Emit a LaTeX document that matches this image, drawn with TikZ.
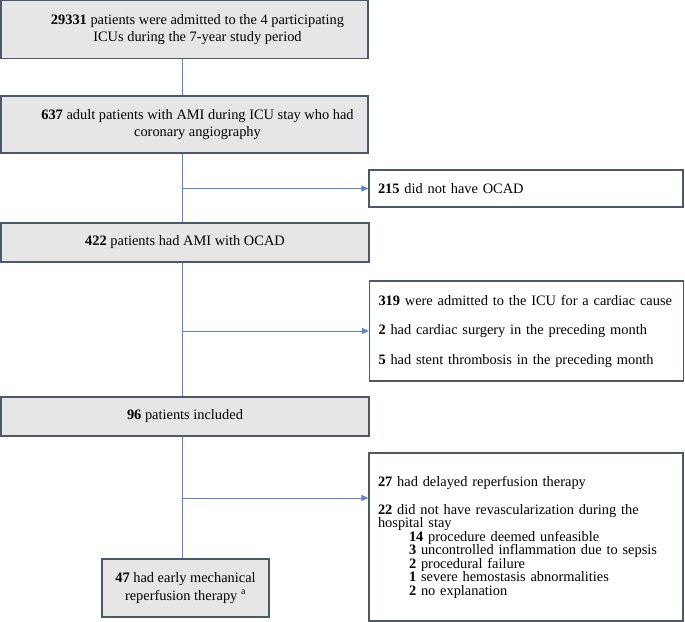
\documentclass[tikz,border=0pt]{standalone}
\usepackage{fontspec}
\setmainfont{Liberation Serif}
\usepackage{tikz}
\usetikzlibrary{arrows.meta}
\usetikzlibrary{positioning}
\definecolor{boxline}{RGB}{78,88,104}
\definecolor{boxfill}{RGB}{231,230,230}
\definecolor{flowblue}{RGB}{91,131,210}
\tikzset{>=latex}
\tikzstyle{mainbox} = [rectangle, draw=boxline, fill=boxfill, line width=1.2pt, align=center, inner sep=0pt]
\tikzstyle{sidebox} = [rectangle, draw=boxline, fill=white, line width=1.2pt, align=left, inner xsep=9pt, inner ysep=0pt, text width=296pt, font=\fontsize{14.4}{13.5}\selectfont]
\tikzstyle{flow} = [draw=flowblue, line width=1pt]

\begin{document}
\begin{tikzpicture}[x=1pt, y=-1pt, font=\fontsize{14.4}{17.5}\selectfont]
\useasboundingbox (0, 0) rectangle (685, 621);
\coordinate (spine) at (182, 0);
\node [mainbox, minimum width=367pt, minimum height=58pt] (Adm) at (184.5, 29.5) {\hspace*{26pt}\textbf{29331} patients were admitted to the 4 participating\\\hspace*{26pt}ICUs during the 7-year study period};
\node [mainbox, minimum width=367pt, minimum height=57pt] (Angio) at (184.5, 124.5) {\hspace*{26pt}\textbf{637} adult patients with AMI during ICU stay who had\\\hspace*{26pt}coronary angiography};
\node [mainbox, minimum width=368pt, minimum height=39pt] (OCAD) at (185, 242.5) {\textbf{422} patients had AMI with OCAD};
\node [mainbox, minimum width=368pt, minimum height=39pt] (Inc) at (185, 416.5) {\textbf{96} patients included};
\node [mainbox, minimum width=167pt, minimum height=58pt] (Early) at (185.5, 588) {\textbf{47} had early mechanical\\reperfusion therapy \textsuperscript{a}};
\node [sidebox, minimum height=37pt] (Ex1) at (526, 188.5) {\textbf{215} did not have OCAD};
\node [sidebox, minimum height=100pt] (Ex2) at (526.5, 331) {\textbf{319} were admitted to the ICU for a cardiac cause\\[16pt]\textbf{2} had cardiac surgery in the preceding month\\[16pt]\textbf{5} had stent thrombosis in the preceding month};
\node [sidebox, minimum height=168pt] (Ex3) at (526, 537) {\textbf{27} had delayed reperfusion therapy\\[14.5pt]\textbf{22} did not have revascularization during the\\hospital stay\\\hspace*{31pt}\textbf{14} procedure deemed unfeasible\\\hspace*{31pt}\textbf{3} uncontrolled inflammation due to sepsis\\\hspace*{31pt}\textbf{2} procedural failure\\\hspace*{31pt}\textbf{1} severe hemostasis abnormalities\\\hspace*{31pt}\textbf{2} no explanation};
\coordinate (Br3) at (182, 498);
% main flow
\draw [flow] (Adm.south -| spine) -- (Angio.north -| spine);
\draw [flow] (Angio.south -| spine) -- (OCAD.north -| spine);
\draw [flow] (OCAD.south -| spine) -- (Inc.north -| spine);
\draw [flow] (Inc.south -| spine) -- (Early.north -| spine);
% exclusions
\draw [flow, -{Triangle[length=7pt, width=6pt]}] (Ex1.west -| spine) -- (Ex1.west);
\draw [flow, -{Triangle[length=7pt, width=6pt]}] (Ex2.west -| spine) -- (Ex2.west);
\draw [flow, -{Triangle[length=7pt, width=6pt]}] (Br3) -- (Br3 -| Ex3.west);
\end{tikzpicture}
\end{document}
